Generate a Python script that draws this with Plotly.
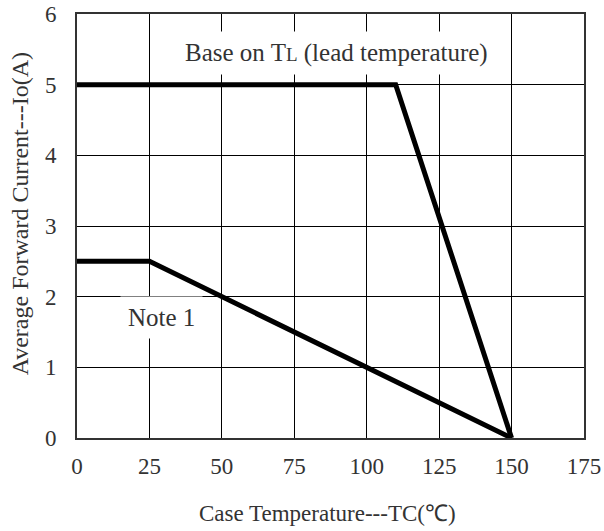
import plotly.graph_objects as go

# Data
tl_x = [0, 110, 150]
tl_y = [5, 5, 0]
note_x = [0, 25, 150]
note_y = [2.5, 2.5, 0]
x_ticks = [0, 25, 50, 75, 100, 125, 150, 175]
y_ticks = [0, 1, 2, 3, 4, 5, 6]
x_title = "Case Temperature---TC(℃)"
y_title = "Average Forward Current---Io(A)"

FONT = "Liberation Serif"
TXT = "#333"

fig = go.Figure()
fig.add_trace(go.Scatter(x=tl_x, y=tl_y, mode="lines",
                         line=dict(color="black", width=5), showlegend=False))
fig.add_trace(go.Scatter(x=note_x, y=note_y, mode="lines",
                         line=dict(color="black", width=5), showlegend=False))

fig.add_annotation(x=89.4, y=5.45, xref="x", yref="y",
                   text='Base on T<span style="font-size:19px">L</span> (lead temperature)',
                   showarrow=False, bgcolor="white", borderpad=7,
                   font=dict(family=FONT, size=25, color=TXT))
fig.add_annotation(x=29, y=1.71, xref="x", yref="y",
                   text="Note 1", showarrow=False, bgcolor="white", borderpad=7,
                   font=dict(family=FONT, size=25, color=TXT))

# axis titles
fig.add_annotation(x=0.495, y=-0.177, xref="paper", yref="paper",
                   text=x_title, showarrow=False, xanchor="center", yanchor="middle",
                   font=dict(family=FONT, size=23, color=TXT))
fig.add_annotation(x=-0.112, y=0.528, xref="paper", yref="paper",
                   text=y_title, showarrow=False, textangle=-90,
                   xanchor="center", yanchor="middle",
                   font=dict(family=FONT, size=24, color=TXT))

axis_common = dict(showgrid=True, gridcolor="black", gridwidth=1,
                   showline=True, linecolor="#333", linewidth=2, mirror=True,
                   zeroline=False, ticks="", automargin=False,
                   tickfont=dict(family=FONT, size=23, color=TXT))

fig.update_xaxes(range=[0, 175], tickvals=x_ticks, ticklabelstandoff=6, **axis_common)
fig.update_yaxes(range=[0, 6], tickvals=y_ticks, ticklabelstandoff=14, **axis_common)

fig.update_layout(width=604, height=531,
                  margin=dict(l=77, r=20, t=14, b=93),
                  plot_bgcolor="white", paper_bgcolor="white")

fig.write_html("out.html")
